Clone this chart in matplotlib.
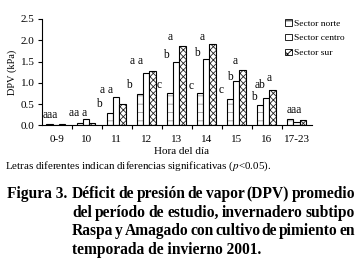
import numpy as np
import matplotlib
matplotlib.use('Agg')
import matplotlib.pyplot as plt
from matplotlib.patches import Patch

plt.rcParams['font.family'] = ['Liberation Serif', 'DejaVu Serif']
plt.rcParams['hatch.linewidth'] = 0.6

# data (kPa)
horas = ['0-9', '10', '11', '12', '13', '14', '15', '16', '17-23']
norte = [0.02, 0.05, 0.28, 0.73, 0.77, 0.76, 0.63, 0.48, 0.15]
centro = [0.00, 0.15, 0.66, 1.24, 1.50, 1.55, 1.04, 0.64, 0.07]
sur = [0.02, 0.05, 0.49, 1.27, 1.86, 1.91, 1.31, 0.82, 0.12]
series = ['Sector norte', 'Sector centro', 'Sector sur']

# significance letters (text, x in group units, y in kPa)
let_txt = ['aaa', 'aa a', 'b', 'a a', 'b', 'a a', 'c', 'b', 'a',
           'c', 'b', 'a', 'c', 'b', 'a', 'b', 'ab', 'a', 'aaa']
let_x = [-0.2, 0.71, 1.41, 1.68, 2.42, 2.66, 3.42, 3.64, 3.79,
         4.49, 4.66, 4.84, 5.49, 5.76, 5.93, 6.57, 6.78, 7.07, 7.92]
let_y = [0.24, 0.28, 0.49, 0.83, 0.94, 1.51, 0.94, 1.65, 2.07,
         0.93, 1.71, 2.07, 0.83, 1.14, 1.51, 0.67, 0.95, 1.12, 0.36]

W, H = 357, 260
fig = plt.figure(figsize=(W / 100, H / 100), dpi=100)
ax = fig.add_axes([41.5 / W, 1 - 125.3 / H, (312 - 41.5) / W, (125.3 - 19) / H])

x = np.arange(len(horas))
bw = 0.21
offs = [-0.23, -0.02, 0.19]

# norte: light dashes
ax.bar(x + offs[0], norte, bw, color='white', edgecolor='#9a9a9a', hatch='--', linewidth=0)
ax.bar(x + offs[0], norte, bw, color='none', edgecolor='black', linewidth=0.8)
# centro: plain white
ax.bar(x + offs[1], centro, bw, color='white', edgecolor='black', linewidth=0.8)
# sur: dense cross hatch
ax.bar(x + offs[2], sur, bw, color='white', edgecolor='#222222', hatch='xxxxx', linewidth=0)
ax.bar(x + offs[2], sur, bw, color='none', edgecolor='black', linewidth=0.8)

for t, lx, ly in zip(let_txt, let_x, let_y):
    ax.text(lx, ly, t, ha='center', va='center', fontsize=8.3)

ax.set_xlim(-0.5, len(horas) - 0.5)
ax.set_ylim(0, 2.5)
ax.set_yticks(np.arange(0, 2.51, 0.5))
ax.set_yticklabels(['%.1f' % v for v in np.arange(0, 2.51, 0.5)], fontsize=8)
ax.set_xticks(x)
ax.set_xticklabels(horas, fontsize=8)
ax.set_xticks(np.arange(0.5, len(horas) - 0.5, 1), minor=True)
ax.tick_params(axis='x', which='major', length=0, pad=7)
ax.tick_params(axis='x', which='minor', length=3, width=0.8, direction='out')
ax.tick_params(axis='y', length=3, width=0.8, direction='out', pad=2)
for s in ['top', 'right']:
    ax.spines[s].set_visible(False)
for s in ['left', 'bottom']:
    ax.spines[s].set_linewidth(0.8)

ax.set_ylabel('DPV (kPa)', fontsize=7.5, labelpad=3)
fig.text(182 / W, 1 - 152 / H, 'Hora del día', ha='center', va='center', fontsize=8)

# legend
handles = [Patch(facecolor='white', edgecolor='black', hatch='--', linewidth=0.6),
           Patch(facecolor='white', edgecolor='black', linewidth=0.6),
           Patch(facecolor='white', edgecolor='black', hatch='xxxx', linewidth=0.6)]
fig.legend(handles, series, loc='upper left', bbox_to_anchor=(285 / W, 1 - 19 / H),
           frameon=False, fontsize=6.8, handlelength=0.7, handleheight=0.7,
           handletextpad=0.25, labelspacing=0.65, borderpad=0, borderaxespad=0)

fig.text(5 / W, 1 - 166 / H,
         'Letras diferentes indican diferencias significativas ($p$<0.05).',
         ha='left', va='center', fontsize=7.9, math_fontfamily='stix')

# caption, justified
cap_lines = ['Déficit de presión de vapor (DPV) promedio',
             'del período de estudio, invernadero subtipo',
             'Raspa y Amagado con cultivo de pimiento en',
             'temporada de invierno 2001.']
cap_y = [194, 213, 231, 250]
x0, x1 = 72 / W, 355 / W
cfs = 11.2
fig.text(7 / W, 1 - cap_y[0] / H, 'Figura 3.', ha='left', va='center',
         fontsize=cfs, fontweight='bold')
r = fig.canvas.get_renderer()
for i, (line, yy) in enumerate(zip(cap_lines, cap_y)):
    yf = 1 - yy / H
    if i == len(cap_lines) - 1:
        fig.text(x0, yf, line, ha='left', va='center', fontsize=cfs, fontweight='bold')
        continue
    words = line.split(' ')
    ts = [fig.text(0, yf, w, ha='left', va='center', fontsize=cfs, fontweight='bold')
          for w in words]
    widths = [t.get_window_extent(r).width / fig.bbox.width for t in ts]
    gap = (x1 - x0 - sum(widths)) / (len(words) - 1)
    pos = x0
    for t, wd in zip(ts, widths):
        t.set_x(pos)
        pos += wd + gap

fig.savefig('out.png', dpi=100)
